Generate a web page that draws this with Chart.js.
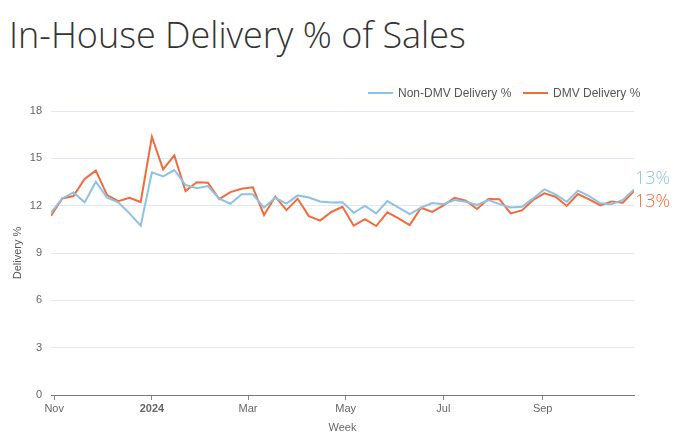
<!DOCTYPE html>
<html><head><meta charset="utf-8">
<script src="https://cdn.jsdelivr.net/npm/chart.js@4.4.1/dist/chart.umd.min.js"></script>
<style>
html,body{margin:0;padding:0;background:#fff;width:676px;height:441px;overflow:hidden;}
#wrap{position:relative;width:676px;height:441px;}
#title{position:absolute;left:9px;top:13px;font-family:'Open Sans',sans-serif;font-weight:300;font-size:36px;color:#333;white-space:nowrap;line-height:44px}
canvas{position:absolute;left:0;top:0;}
.leg{position:absolute;top:85px;font-family:'Liberation Sans',Arial,sans-serif;font-size:12px;color:#555;white-space:nowrap;line-height:16px}
.sw{position:absolute;left:0;top:7px;width:25px;height:2px}
.lt{position:absolute;left:30px;top:0}
</style></head>
<body><div id="wrap">
<div id="title">In-House Delivery % of Sales</div>
<canvas id="c" width="676" height="441"></canvas>
<div class="leg" style="left:368px"><div class="sw" id="sw0"></div><div class="lt" id="lt0"></div></div>
<div class="leg" style="left:523px"><div class="sw" id="sw1"></div><div class="lt" id="lt1"></div></div>
</div>
<script>
const weeks = ['2023-10-30','2023-11-06','2023-11-13','2023-11-20','2023-11-27','2023-12-04','2023-12-11','2023-12-18','2023-12-25',
'2024-01-01','2024-01-08','2024-01-15','2024-01-22','2024-01-29','2024-02-05','2024-02-12','2024-02-19','2024-02-26',
'2024-03-04','2024-03-11','2024-03-18','2024-03-25','2024-04-01','2024-04-08','2024-04-15','2024-04-22','2024-04-29',
'2024-05-06','2024-05-13','2024-05-20','2024-05-27','2024-06-03','2024-06-10','2024-06-17','2024-06-24',
'2024-07-01','2024-07-08','2024-07-15','2024-07-22','2024-07-29','2024-08-05','2024-08-12','2024-08-19','2024-08-26',
'2024-09-02','2024-09-09','2024-09-16','2024-09-23','2024-09-30','2024-10-07','2024-10-14','2024-10-21','2024-10-28'];
const nonDmv = [11.55,12.46,12.84,12.21,13.52,12.50,12.21,11.51,10.73,
14.11,13.86,14.26,13.31,13.10,13.24,12.44,12.12,12.72,
12.72,11.88,12.50,12.13,12.65,12.52,12.27,12.20,12.22,
11.55,11.98,11.51,12.29,11.87,11.47,11.87,12.17,
12.09,12.36,12.25,12.04,12.36,12.10,11.89,11.93,12.46,
13.03,12.72,12.25,12.95,12.61,12.15,12.09,12.36,13.03];
const dmv = [11.36,12.46,12.61,13.69,14.22,12.67,12.29,12.50,12.23,
16.37,14.30,15.19,12.93,13.48,13.46,12.42,12.86,13.07,
13.16,11.41,12.57,11.72,12.44,11.34,11.05,11.60,11.93,
10.73,11.15,10.71,11.58,11.20,10.77,11.87,11.60,
12.02,12.50,12.31,11.79,12.42,12.40,11.51,11.70,12.36,
12.78,12.57,11.98,12.74,12.40,12.02,12.27,12.19,12.93];
const seriesNames = ['Non-DMV Delivery %','DMV Delivery %'];
const tickDates = ['2023-11-01','2024-01-01','2024-03-01','2024-05-01','2024-07-01','2024-09-01'];
const tickLabels = ['Nov','2024','Mar','May','Jul','Sep'];
const yTicks = [0,3,6,9,12,15,18];

const BLUE = '#8fc1e3', RED = '#f26b3d';
const base = Date.UTC(2023,10,1);
function dayOf(s){const p=s.split('-').map(Number);return (Date.UTC(p[0],p[1]-1,p[2])-base)/86400000;}
const toPts = arr => arr.map((v,i)=>({x:dayOf(weeks[i]), y:v}));

document.getElementById('sw0').style.background=BLUE;
document.getElementById('sw1').style.background=RED;
document.getElementById('lt0').textContent=seriesNames[0];
document.getElementById('lt1').textContent=seriesNames[1];

const endLabels = {
  id:'endLabels',
  afterDatasetsDraw(chart){
    const ctx = chart.ctx;
    chart.data.datasets.forEach((ds,i)=>{
      const meta = chart.getDatasetMeta(i);
      const pt = meta.data[meta.data.length-1];
      const v = ds.data[ds.data.length-1].y;
      ctx.save();
      ctx.font = '300 18px "Open Sans"';
      ctx.fillStyle = ds.borderColor;
      ctx.textBaseline = 'middle';
      ctx.textAlign = 'left';
      ctx.fillText(Math.round(v)+'%', pt.x+1, pt.y + ds.labelOffset);
      ctx.restore();
    });
  }
};

Chart.defaults.font.family = "'Liberation Sans', Arial, sans-serif";
new Chart(document.getElementById('c'), {
  type:'line',
  data:{datasets:[
    {label:seriesNames[0], data:toPts(nonDmv), borderColor:BLUE, backgroundColor:BLUE, borderWidth:2, pointRadius:0, tension:0, labelOffset:-11},
    {label:seriesNames[1], data:toPts(dmv), borderColor:RED, backgroundColor:RED, borderWidth:2, pointRadius:0, tension:0, labelOffset:11}
  ]},
  options:{
    responsive:false, animation:false, events:[],
    layout:{padding:{top:111,right:42,left:0,bottom:0}},
    plugins:{legend:{display:false}, tooltip:{enabled:false}},
    scales:{
      x:{type:'linear', min:dayOf(weeks[0]), max:dayOf(weeks[weeks.length-1]),
        afterBuildTicks(s){ s.ticks = tickDates.map(d=>({value:dayOf(d)})); },
        afterFit(s){ s.height = 46; },
        ticks:{autoSkip:false, maxRotation:0, padding:2, color:'#666',
          callback:(v,i)=>tickLabels[i],
          font:(c)=>({size:11, weight: tickLabels[c.index]==='2024' ? 'bold' : 'normal'})},
        grid:{display:true, drawOnChartArea:false, drawTicks:true, tickLength:5, color:'#888'},
        border:{display:true, color:'#777', width:1},
        title:{display:true, text:'Week', color:'#666', font:{size:11}, padding:{top:0,bottom:6}}
      },
      y:{min:0, max:18,
        afterBuildTicks(s){ s.ticks = yTicks.map(v=>({value:v})); },
        afterFit(s){ s.width = 51; },
        ticks:{color:'#666', font:{size:11}, padding:9},
        grid:{color:'#e3e8f0', drawTicks:false, lineWidth:1},
        border:{display:false},
        title:{display:true, text:'Delivery %', color:'#555', font:{size:11}, padding:{top:11,bottom:0}}
      }
    }
  },
  plugins:[endLabels]
});
</script>
</body></html>
